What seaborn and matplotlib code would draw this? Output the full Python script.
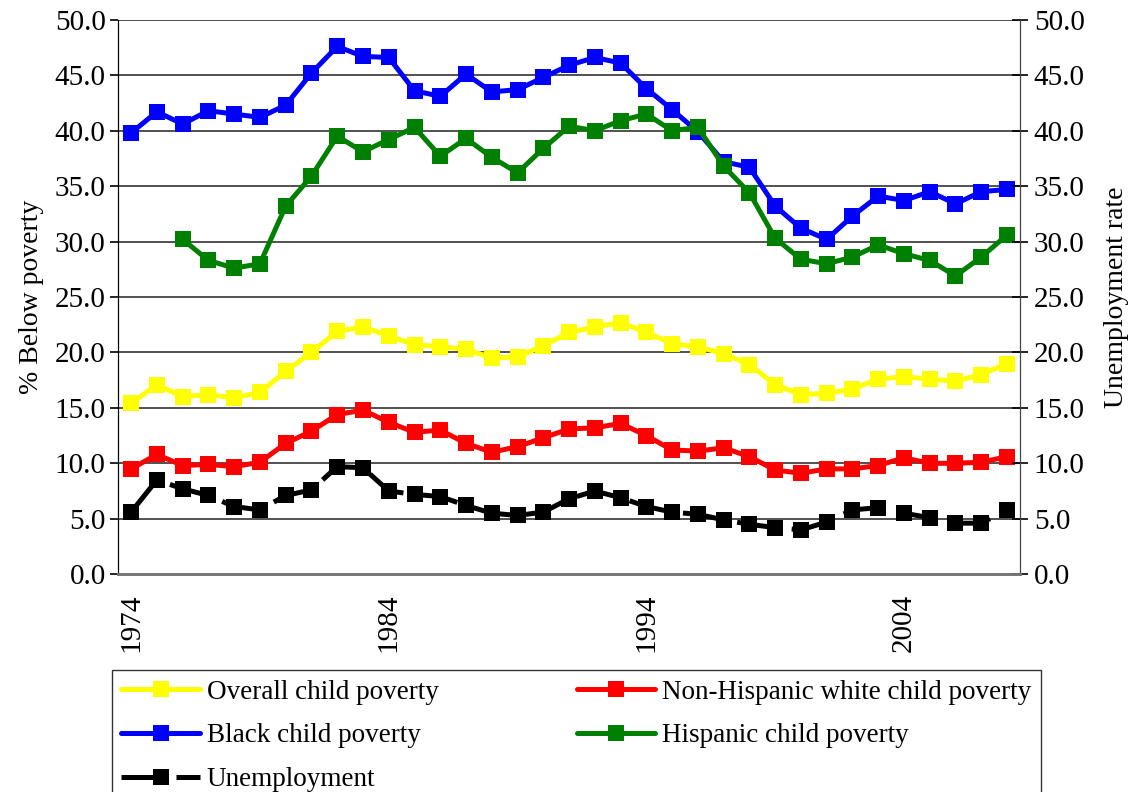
import seaborn as sns
import numpy as np
import matplotlib.pyplot as plt
from matplotlib.ticker import MultipleLocator, FormatStrFormatter

years = list(range(1974, 2009))

overall = [15.4, 17.1, 16.0, 16.2, 15.9, 16.4, 18.3, 20.0, 21.9, 22.3,
           21.5, 20.7, 20.5, 20.3, 19.5, 19.6, 20.6, 21.8, 22.3, 22.7,
           21.8, 20.8, 20.5, 19.9, 18.9, 17.1, 16.2, 16.3, 16.7, 17.6,
           17.8, 17.6, 17.4, 18.0, 19.0]
white = [9.5, 10.8, 9.8, 9.9, 9.7, 10.1, 11.8, 12.9, 14.4, 14.8,
         13.7, 12.8, 13.0, 11.8, 11.0, 11.5, 12.3, 13.1, 13.2, 13.6,
         12.5, 11.2, 11.1, 11.4, 10.6, 9.4, 9.1, 9.5, 9.5, 9.8,
         10.5, 10.0, 10.0, 10.1, 10.6]
black = [39.8, 41.7, 40.6, 41.8, 41.5, 41.2, 42.3, 45.2, 47.6, 46.7,
         46.6, 43.6, 43.1, 45.1, 43.5, 43.7, 44.8, 45.9, 46.6, 46.1,
         43.8, 41.9, 39.9, 37.2, 36.7, 33.2, 31.2, 30.2, 32.3, 34.1,
         33.7, 34.5, 33.4, 34.5, 34.7]
hispanic = [np.nan, np.nan, 30.2, 28.3, 27.6, 28.0, 33.2, 35.9, 39.5, 38.1,
            39.2, 40.3, 37.7, 39.3, 37.6, 36.2, 38.4, 40.4, 40.0, 40.9,
            41.5, 40.0, 40.3, 36.8, 34.4, 30.3, 28.4, 28.0, 28.6, 29.7,
            28.9, 28.3, 26.9, 28.6, 30.6]
unemployment = [5.6, 8.5, 7.7, 7.1, 6.1, 5.8, 7.1, 7.6, 9.7, 9.6,
                7.5, 7.2, 7.0, 6.2, 5.5, 5.3, 5.6, 6.8, 7.5, 6.9,
                6.1, 5.6, 5.4, 4.9, 4.5, 4.2, 4.0, 4.7, 5.8, 6.0,
                5.5, 5.1, 4.6, 4.6, 5.8]

sns.set_style("white")
plt.rcParams['font.family'] = ['Liberation Serif', 'DejaVu Serif']
plt.rcParams['text.color'] = 'black'
plt.rcParams['axes.labelcolor'] = 'black'
plt.rcParams['xtick.color'] = 'black'
plt.rcParams['ytick.color'] = 'black'

fig = plt.figure(figsize=(11.37, 7.92), dpi=100)
ax = fig.add_axes([0.104, 0.275, 0.793, 0.7])
ax2 = ax.twinx()

kw = dict(marker='s', markersize=11, linewidth=3.6, markeredgewidth=0)
sns.lineplot(x=years, y=overall, ax=ax, color='#ffff00', label='Overall child poverty', **kw)
sns.lineplot(x=years, y=white, ax=ax, color='#ff0000', label='Non-Hispanic white child poverty', **kw)
sns.lineplot(x=years, y=black, ax=ax, color='#0000ff', label='Black child poverty', **kw)
sns.lineplot(x=years, y=hispanic, ax=ax, color='#008000', label='Hispanic child poverty', **kw)
sns.lineplot(x=years, y=unemployment, ax=ax2, color='black', label='Unemployment',
             linestyle=(0, (8, 3)), **kw)

for a in (ax, ax2):
    a.set_ylim(0, 50)
    a.set_xlim(1973.5, 2008.5)
    a.yaxis.set_major_locator(MultipleLocator(5))
    a.yaxis.set_major_formatter(FormatStrFormatter('%.1f'))
    a.tick_params(axis='y', labelsize=21, length=6, width=1.2, color='black')
    a.set_xlabel('')

ax.grid(axis='y', color='#333333', linewidth=1.2)
ax.set_axisbelow(True)
ax.tick_params(axis='y', direction='out', pad=3)
ax2.tick_params(axis='y', direction='inout', length=12, pad=4)

ax.set_xticks(years, minor=True)
ax.set_xticks([1974, 1984, 1994, 2004])
ax.set_xticklabels(['1974', '1984', '1994', '2004'], rotation=90, fontsize=21)
ax.tick_params(axis='x', which='both', direction='inout', length=12, width=1, color='black', pad=8)

ax.set_ylabel('% Below poverty', fontsize=20, labelpad=8)
ax2.set_ylabel('Unemployment rate', fontsize=20, labelpad=14)

for a in (ax, ax2):
    a.spines['top'].set_visible(False)
    a.spines['left'].set_color('black')
    a.spines['right'].set_color('#444444')
    a.spines['bottom'].set_color('#777777')
    a.spines['bottom'].set_linewidth(2)

ax.get_legend().remove()
ax2.get_legend().remove()
h1, l1 = ax.get_legend_handles_labels()
h2, l2 = ax2.get_legend_handles_labels()
handles = [h1[0], h1[2], h2[0], h1[1], h1[3]]
labels = [l1[0], l1[2], l2[0], l1[1], l1[3]]
leg = fig.legend(handles, labels, ncol=2, loc='upper left',
                 bbox_to_anchor=(0.0985, 0.0, 0.817, 0.154), mode='expand',
                 fontsize=19.5, frameon=True, fancybox=False, handlelength=2.9,
                 handletextpad=0.25, borderpad=0.35, labelspacing=0.7,
                 columnspacing=1.0, borderaxespad=0)
leg.get_frame().set_edgecolor('black')
leg.get_frame().set_linewidth(1)

fig.savefig('out.png', dpi=100)
